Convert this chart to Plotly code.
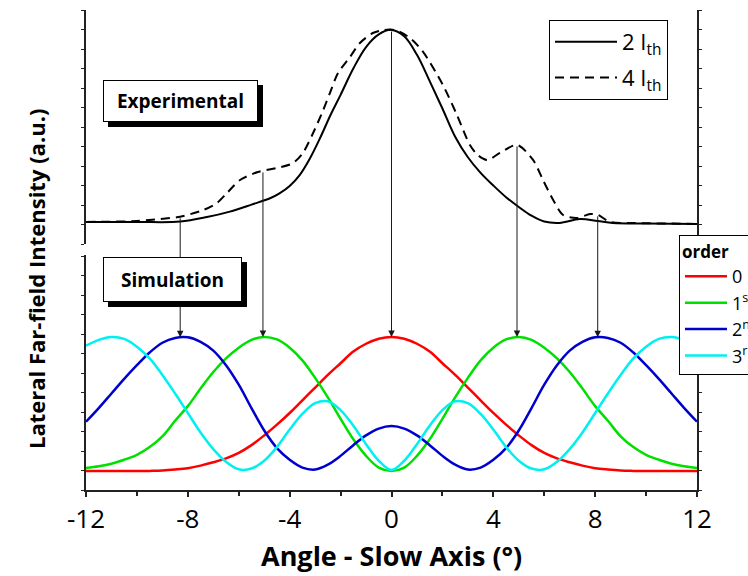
import plotly.graph_objects as go
import numpy as np

# ---- measured far-field profiles (angle in degrees, intensity in a.u.) ----
exp_2ith_angle = [-12, -10, -8.3, -7.25, -6.35, -5.5, -4.75, -4.4, -4.0, -3.6, -3.2, -2.8,
                  -2.4, -2.0, -1.5, -1.0, -0.5, 0, 0.5, 1.0, 1.5, 2.0, 2.5, 3.0, 3.5, 4.0,
                  4.5, 5.0, 5.5, 6.0, 6.6, 7.4, 8.1, 8.7, 10, 12]
exp_2ith_value = [1.13, 1.13, 1.15, 1.38, 1.66, 2.02, 2.36, 2.6, 2.98, 3.55, 4.4, 5.45,
                  6.6, 7.65, 9.0, 10.1, 10.75, 10.98, 10.65, 9.7, 8.35, 6.95, 5.5, 4.45,
                  3.65, 3.0, 2.4, 1.9, 1.45, 1.15, 1.08, 1.28, 1.18, 1.08, 1.05, 1.03]

exp_4ith_angle = [-12, -10, -9.1, -8.3, -7.4, -6.86, -6.46, -5.95, -5.25, -4.5, -3.87,
                  -3.48, -3.08, -2.73, -2.42, -2.1, -1.63, -1.24, -0.73, -0.33, 0.14,
                  0.73, 1.24, 2.02, 2.57, 3.08, 3.4, 3.76, 4.26, 4.93, 5.56, 5.95, 6.35,
                  6.74, 7.29, 7.8, 8.11, 8.59, 9.49, 12]
exp_4ith_value = [1.13, 1.18, 1.28, 1.4, 1.74, 2.10, 2.62, 3.28, 3.69, 3.90, 4.15,
                  4.67, 5.69, 6.72, 7.74, 8.77, 9.59, 10.31, 10.82, 10.97, 10.97,
                  10.56, 9.85, 8.15, 6.62, 5.08, 4.55, 4.31, 4.67, 5.08, 4.31, 3.28, 2.26,
                  1.49, 1.33, 1.54, 1.49, 1.13, 1.08, 1.03]

# ---- simulated lateral modes, sampled every 0.5 degree ----
sim_angle = [-12, -11.5, -11, -10.5, -10, -9.5, -9, -8.5, -8, -7.5, -7, -6.5, -6,
             -5.5, -5, -4.5, -4, -3.5, -3, -2.5, -2, -1.5, -1, -0.5, 0,
             0.5, 1, 1.5, 2, 2.5, 3, 3.5, 4, 4.5, 5, 5.5, 6, 6.5, 7, 7.5, 8,
             8.5, 9, 9.5, 10, 10.5, 11, 11.5, 12]

order0_value = [0.97, 0.97, 0.97, 0.97, 0.97, 0.98, 1.0, 1.05, 1.12, 1.25, 1.42, 1.62, 1.9,
                2.3, 2.8, 3.35, 3.95, 4.6, 5.25, 5.9, 6.5, 7.1, 7.5, 7.76, 7.85,
                7.76, 7.5, 7.1, 6.5, 5.9, 5.25, 4.6, 3.95, 3.35, 2.8, 2.3, 1.9, 1.62,
                1.42, 1.25, 1.12, 1.05, 1.0, 0.98, 0.97, 0.97, 0.97, 0.97, 0.97]

order1_value = [1.13, 1.22, 1.35, 1.55, 1.8, 2.2, 2.75, 3.55, 4.3, 5.2, 6.05, 6.75, 7.3,
                7.7, 7.85, 7.72, 7.3, 6.65, 5.75, 4.75, 3.65, 2.6, 1.75, 1.15, 0.97,
                1.15, 1.75, 2.6, 3.65, 4.75, 5.75, 6.65, 7.3, 7.72, 7.85, 7.7, 7.3,
                6.75, 6.05, 5.2, 4.3, 3.55, 2.75, 2.2, 1.8, 1.55, 1.35, 1.22, 1.13]

order2_value = [3.5, 4.2, 4.95, 5.7, 6.4, 7.05, 7.55, 7.8, 7.83, 7.6, 7.15, 6.4, 5.4,
                4.2, 3.05, 2.15, 1.55, 1.15, 1.05, 1.3, 1.75, 2.3, 2.8, 3.15, 3.28,
                3.15, 2.8, 2.3, 1.75, 1.3, 1.05, 1.15, 1.55, 2.15, 3.05, 4.2, 5.4,
                6.4, 7.15, 7.6, 7.83, 7.8, 7.55, 7.05, 6.4, 5.7, 4.95, 4.2, 3.5]

order3_value = [7.4, 7.7, 7.85, 7.75, 7.35, 6.75, 5.9, 4.95, 3.95, 2.95, 2.1, 1.45, 1.06,
                1.1, 1.5, 2.2, 3.1, 3.9, 4.45, 4.55, 4.1, 3.3, 2.35, 1.5, 1.03,
                1.5, 2.35, 3.3, 4.1, 4.55, 4.45, 3.9, 3.1, 2.2, 1.5, 1.1, 1.06,
                1.45, 2.1, 2.95, 3.95, 4.95, 5.9, 6.75, 7.35, 7.75, 7.85, 7.7, 7.4]

mode_names = ["0", "1<sup>st</sup>", "2<sup>nd</sup>", "3<sup>rd</sup>"]
mode_colors = ["#ff0000", "#00e000", "#0000cc", "#00f0f0"]

# features of the 4 I_th profile linked to the simulated mode maxima
link_angle = [-8.3, -5.05, 0.0, 4.93, 8.1]
link_mode_peak = [order2_value, order1_value, order0_value, order1_value, order2_value]

x_ticks = [-12, -8, -4, 0, 4, 8, 12]

# ---- layout geometry ----
FONT = "Open Sans"
W, H = 748, 576
M_L, M_R, M_T, M_B = 86, 51, 10, 86
PLOT_H = H - M_T - M_B
DOM_UP = [0.5125, 1.0]
DOM_LO = [0.0, 0.4896]
UNIT = 19.5                       # pixels per intensity unit in both panels
Y_UP_MAX = (DOM_UP[1] - DOM_UP[0]) * PLOT_H / UNIT
Y_LO_MAX = (DOM_LO[1] - DOM_LO[0]) * PLOT_H / UNIT
Y3_MAX = PLOT_H / UNIT            # helper axis covering both panels
UP_OFFSET = DOM_UP[0] * Y3_MAX

fig = go.Figure()

fig.add_trace(go.Scatter(x=exp_2ith_angle, y=exp_2ith_value, mode="lines",
                         name="2 I<sub>th</sub>", legend="legend", legendgroup="a",
                         line=dict(color="black", width=2, shape="spline", smoothing=1),
                         xaxis="x", yaxis="y"))
fig.add_trace(go.Scatter(x=exp_4ith_angle, y=exp_4ith_value, mode="lines",
                         name="4 I<sub>th</sub>", legend="legend", legendgroup="b",
                         line=dict(color="black", width=2, dash="9px,6px",
                                   shape="spline", smoothing=0.8),
                         xaxis="x", yaxis="y"))

for val, nm, col in zip([order0_value, order1_value, order2_value, order3_value],
                        mode_names, mode_colors):
    fig.add_trace(go.Scatter(x=sim_angle, y=val, mode="lines", name=nm, legend="legend2",
                             line=dict(color=col, width=2.5, shape="spline", smoothing=1),
                             xaxis="x", yaxis="y2"))

# empty trace to register the helper axis used for the linking arrows
fig.add_trace(go.Scatter(x=[], y=[], xaxis="x", yaxis="y3", showlegend=False,
                         hoverinfo="skip"))

annotations = []
for ang, peak_series in zip(link_angle, link_mode_peak):
    tail = float(np.interp(ang, exp_4ith_angle, exp_4ith_value)) + UP_OFFSET
    head = max(peak_series)
    annotations.append(dict(x=ang, y=head, ax=ang, ay=tail, xref="x", yref="y3",
                            axref="x", ayref="y3", text="", showarrow=True,
                            arrowhead=2, arrowsize=1.3, arrowwidth=1,
                            arrowcolor="#1a1a1a"))


def px_to_paper_x(px):
    return (px - M_L) / (W - M_L - M_R)


def px_to_paper_y(py):
    return (H - M_B - py) / PLOT_H


# framed labels with a drop shadow
for label, cx, cy, bw, bh in [("Experimental", 180.5, 101, 153, 40),
                              ("Simulation", 172.5, 279.5, 137, 43)]:
    common = dict(x=px_to_paper_x(cx), y=px_to_paper_y(cy), xref="paper", yref="paper",
                  showarrow=False, width=bw, height=bh, borderpad=0, borderwidth=1,
                  xanchor="center", yanchor="middle")
    annotations.append(dict(text=" ", bgcolor="black", bordercolor="black",
                            xshift=5, yshift=-5, **common))
    annotations.append(dict(text="<b>%s</b>" % label, bgcolor="white", bordercolor="black",
                            font=dict(family=FONT, size=19, color="black"), **common))

annotations.append(dict(text="<b>Angle - Slow Axis (°)</b>", x=px_to_paper_x(391),
                        y=px_to_paper_y(555), xref="paper", yref="paper", showarrow=False,
                        xanchor="center", yanchor="middle",
                        font=dict(family=FONT, size=27, color="black")))
annotations.append(dict(text="<b>Lateral Far-field Intensity (a.u.)</b>",
                        x=px_to_paper_x(36), y=px_to_paper_y(279), xref="paper",
                        yref="paper", showarrow=False, textangle=-90,
                        xanchor="center", yanchor="middle",
                        font=dict(family=FONT, size=22, color="black")))

axis_line = dict(showline=True, linecolor="#222222", linewidth=1.5, showgrid=False,
                 zeroline=False)

fig.update_layout(
    width=W, height=H,
    margin=dict(l=M_L, r=M_R, t=M_T, b=M_B, autoexpand=False),
    paper_bgcolor="white", plot_bgcolor="rgba(0,0,0,0)",
    font=dict(family=FONT, color="black"),
    xaxis=dict(range=[-12, 12], anchor="y2", tickmode="array", tickvals=x_ticks,
               ticktext=[str(t) for t in x_ticks], ticks="outside", ticklen=5,
               tickwidth=1.5, tickcolor="#222222",
               minor=dict(dtick=2, ticks="outside", ticklen=4, tickcolor="#222222"),
               tickfont=dict(family=FONT, size=26, color="black"), **axis_line),
    xaxis2=dict(matches="x", anchor="y", side="top", ticks="inside", ticklen=3,
                tickmode="array", tickvals=x_ticks, showticklabels=False,
                tickcolor="#222222",
                minor=dict(dtick=2, ticks="inside", ticklen=3, tickcolor="#222222"),
                **axis_line),
    yaxis=dict(domain=DOM_UP, range=[0, Y_UP_MAX], anchor="x", dtick=1, tick0=0,
               ticks="outside", ticklen=3, tickcolor="#222222", showticklabels=False,
               mirror="ticks", **axis_line),
    yaxis2=dict(domain=DOM_LO, range=[0, Y_LO_MAX], anchor="x", dtick=1, tick0=0,
                ticks="outside", ticklen=3, tickcolor="#222222", showticklabels=False,
                mirror="ticks", **axis_line),
    yaxis3=dict(domain=[0, 1], range=[0, Y3_MAX], anchor="x", visible=False),
    legend=dict(x=px_to_paper_x(549), y=px_to_paper_y(20), xanchor="left",
                yanchor="top", xref="paper", yref="paper", bgcolor="white",
                bordercolor="black", borderwidth=1,
                font=dict(family=FONT, size=22, color="black"),
                itemwidth=62, tracegroupgap=4),
    legend2=dict(x=px_to_paper_x(679), y=px_to_paper_y(235), xanchor="left",
                 yanchor="top", xref="paper", yref="paper", bgcolor="white",
                 bordercolor="black", borderwidth=1, itemwidth=42,
                 title=dict(text="<b>order</b>", font=dict(family=FONT, size=17)),
                 font=dict(family=FONT, size=18, color="black")),
    annotations=annotations,
    showlegend=True,
)

fig.write_html("out.html")
